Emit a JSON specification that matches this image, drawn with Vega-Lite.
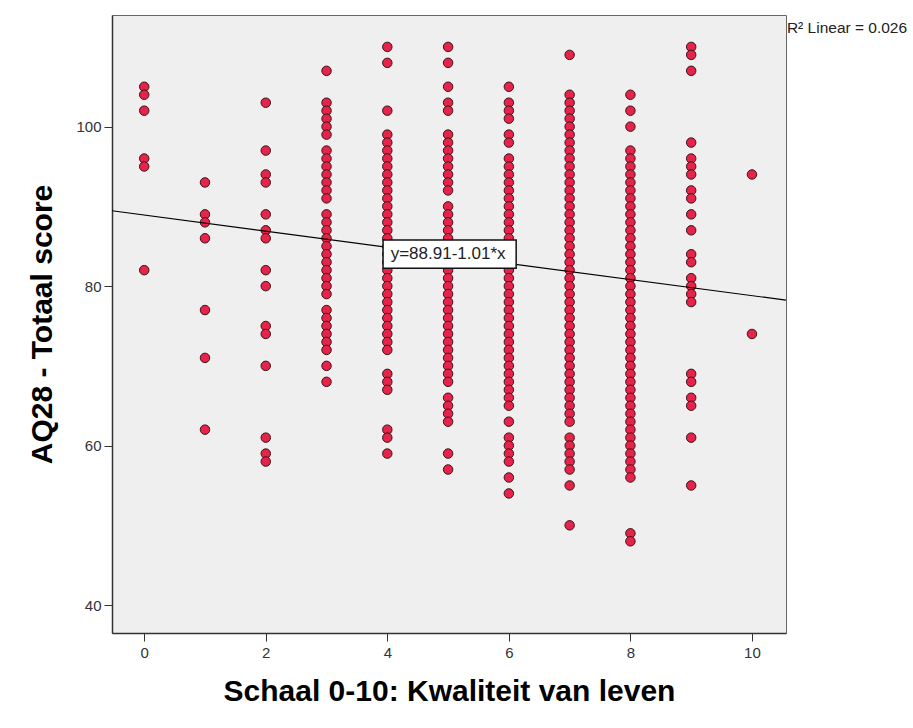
{
  "$schema": "https://vega.github.io/schema/vega-lite/v6.json",
  "width": 674,
  "height": 618,
  "autosize": {"type": "none"},
  "padding": {"left": 112, "top": 15, "right": 127, "bottom": 95},
  "background": "white",
  "config": {
    "font": "Liberation Sans",
    "view": {"fill": "#efefef", "stroke": "#666666", "strokeWidth": 1},
    "axis": {
      "grid": false,
      "domainColor": "#333333",
      "domainWidth": 1.5,
      "tickColor": "#333333",
      "tickSize": 8,
      "labelFont": "Liberation Sans",
      "labelFontSize": 15,
      "labelColor": "#333333",
      "titleFont": "Liberation Sans",
      "titleFontSize": 30,
      "titleFontWeight": "bold",
      "titleColor": "#000000"
    }
  },
  "datasets": {
    "punten": [
      {"schaal":0,"aq28":105},{"schaal":0,"aq28":104},{"schaal":0,"aq28":102},{"schaal":0,"aq28":96},{"schaal":0,"aq28":95},{"schaal":0,"aq28":82},
      {"schaal":1,"aq28":93},{"schaal":1,"aq28":89},{"schaal":1,"aq28":88},{"schaal":1,"aq28":86},{"schaal":1,"aq28":77},{"schaal":1,"aq28":71},{"schaal":1,"aq28":62},
      {"schaal":2,"aq28":103},{"schaal":2,"aq28":97},{"schaal":2,"aq28":94},{"schaal":2,"aq28":93},{"schaal":2,"aq28":89},{"schaal":2,"aq28":87},{"schaal":2,"aq28":86},{"schaal":2,"aq28":82},{"schaal":2,"aq28":80},{"schaal":2,"aq28":75},{"schaal":2,"aq28":74},{"schaal":2,"aq28":70},{"schaal":2,"aq28":61},{"schaal":2,"aq28":59},{"schaal":2,"aq28":58},
      {"schaal":3,"aq28":107},{"schaal":3,"aq28":103},{"schaal":3,"aq28":102},{"schaal":3,"aq28":101},{"schaal":3,"aq28":100},{"schaal":3,"aq28":99},
      {"schaal":3,"aq28":97},{"schaal":3,"aq28":96},{"schaal":3,"aq28":95},{"schaal":3,"aq28":94},{"schaal":3,"aq28":93},{"schaal":3,"aq28":92},{"schaal":3,"aq28":91},
      {"schaal":3,"aq28":89},{"schaal":3,"aq28":88},{"schaal":3,"aq28":87},{"schaal":3,"aq28":86},{"schaal":3,"aq28":85},{"schaal":3,"aq28":84},{"schaal":3,"aq28":83},{"schaal":3,"aq28":82},{"schaal":3,"aq28":81},{"schaal":3,"aq28":80},{"schaal":3,"aq28":79},
      {"schaal":3,"aq28":77},{"schaal":3,"aq28":76},{"schaal":3,"aq28":75},{"schaal":3,"aq28":74},{"schaal":3,"aq28":73},{"schaal":3,"aq28":72},{"schaal":3,"aq28":70},{"schaal":3,"aq28":68},
      {"schaal":4,"aq28":110},{"schaal":4,"aq28":108},{"schaal":4,"aq28":102},
      {"schaal":4,"aq28":99},{"schaal":4,"aq28":98},{"schaal":4,"aq28":97},{"schaal":4,"aq28":96},{"schaal":4,"aq28":95},{"schaal":4,"aq28":94},{"schaal":4,"aq28":93},{"schaal":4,"aq28":92},{"schaal":4,"aq28":91},{"schaal":4,"aq28":90},
      {"schaal":4,"aq28":89},{"schaal":4,"aq28":88},{"schaal":4,"aq28":87},{"schaal":4,"aq28":86},{"schaal":4,"aq28":85},{"schaal":4,"aq28":84},{"schaal":4,"aq28":83},{"schaal":4,"aq28":82},{"schaal":4,"aq28":81},{"schaal":4,"aq28":80},
      {"schaal":4,"aq28":79},{"schaal":4,"aq28":78},{"schaal":4,"aq28":77},{"schaal":4,"aq28":76},{"schaal":4,"aq28":75},{"schaal":4,"aq28":74},{"schaal":4,"aq28":73},{"schaal":4,"aq28":72},
      {"schaal":4,"aq28":69},{"schaal":4,"aq28":68},{"schaal":4,"aq28":67},{"schaal":4,"aq28":62},{"schaal":4,"aq28":61},{"schaal":4,"aq28":59},
      {"schaal":5,"aq28":110},{"schaal":5,"aq28":108},{"schaal":5,"aq28":105},{"schaal":5,"aq28":103},{"schaal":5,"aq28":102},
      {"schaal":5,"aq28":99},{"schaal":5,"aq28":98},{"schaal":5,"aq28":97},{"schaal":5,"aq28":96},{"schaal":5,"aq28":95},{"schaal":5,"aq28":94},{"schaal":5,"aq28":93},{"schaal":5,"aq28":92},
      {"schaal":5,"aq28":90},{"schaal":5,"aq28":89},{"schaal":5,"aq28":88},{"schaal":5,"aq28":87},{"schaal":5,"aq28":86},{"schaal":5,"aq28":85},{"schaal":5,"aq28":84},{"schaal":5,"aq28":83},{"schaal":5,"aq28":82},{"schaal":5,"aq28":81},
      {"schaal":5,"aq28":80},{"schaal":5,"aq28":79},{"schaal":5,"aq28":78},{"schaal":5,"aq28":77},{"schaal":5,"aq28":76},{"schaal":5,"aq28":75},{"schaal":5,"aq28":74},{"schaal":5,"aq28":73},{"schaal":5,"aq28":72},{"schaal":5,"aq28":71},
      {"schaal":5,"aq28":70},{"schaal":5,"aq28":69},{"schaal":5,"aq28":68},
      {"schaal":5,"aq28":66},{"schaal":5,"aq28":65},{"schaal":5,"aq28":64},{"schaal":5,"aq28":63},{"schaal":5,"aq28":59},{"schaal":5,"aq28":57},
      {"schaal":6,"aq28":105},{"schaal":6,"aq28":103},{"schaal":6,"aq28":102},{"schaal":6,"aq28":101},{"schaal":6,"aq28":99},{"schaal":6,"aq28":98},
      {"schaal":6,"aq28":96},{"schaal":6,"aq28":95},{"schaal":6,"aq28":94},{"schaal":6,"aq28":93},{"schaal":6,"aq28":92},{"schaal":6,"aq28":91},{"schaal":6,"aq28":90},
      {"schaal":6,"aq28":89},{"schaal":6,"aq28":88},{"schaal":6,"aq28":87},{"schaal":6,"aq28":86},{"schaal":6,"aq28":85},{"schaal":6,"aq28":84},{"schaal":6,"aq28":83},{"schaal":6,"aq28":82},{"schaal":6,"aq28":81},{"schaal":6,"aq28":80},
      {"schaal":6,"aq28":79},{"schaal":6,"aq28":78},{"schaal":6,"aq28":77},{"schaal":6,"aq28":76},{"schaal":6,"aq28":75},{"schaal":6,"aq28":74},{"schaal":6,"aq28":73},{"schaal":6,"aq28":72},{"schaal":6,"aq28":71},{"schaal":6,"aq28":70},
      {"schaal":6,"aq28":69},{"schaal":6,"aq28":68},{"schaal":6,"aq28":67},{"schaal":6,"aq28":66},{"schaal":6,"aq28":65},
      {"schaal":6,"aq28":63},{"schaal":6,"aq28":61},{"schaal":6,"aq28":60},{"schaal":6,"aq28":59},{"schaal":6,"aq28":58},{"schaal":6,"aq28":56},{"schaal":6,"aq28":54},
      {"schaal":7,"aq28":109},
      {"schaal":7,"aq28":104},{"schaal":7,"aq28":103},{"schaal":7,"aq28":102},{"schaal":7,"aq28":101},{"schaal":7,"aq28":100},
      {"schaal":7,"aq28":99},{"schaal":7,"aq28":98},{"schaal":7,"aq28":97},{"schaal":7,"aq28":96},{"schaal":7,"aq28":95},{"schaal":7,"aq28":94},{"schaal":7,"aq28":93},{"schaal":7,"aq28":92},{"schaal":7,"aq28":91},{"schaal":7,"aq28":90},
      {"schaal":7,"aq28":89},{"schaal":7,"aq28":88},{"schaal":7,"aq28":87},{"schaal":7,"aq28":86},{"schaal":7,"aq28":85},{"schaal":7,"aq28":84},{"schaal":7,"aq28":83},{"schaal":7,"aq28":82},{"schaal":7,"aq28":81},{"schaal":7,"aq28":80},
      {"schaal":7,"aq28":79},{"schaal":7,"aq28":78},{"schaal":7,"aq28":77},{"schaal":7,"aq28":76},{"schaal":7,"aq28":75},{"schaal":7,"aq28":74},{"schaal":7,"aq28":73},{"schaal":7,"aq28":72},{"schaal":7,"aq28":71},{"schaal":7,"aq28":70},
      {"schaal":7,"aq28":69},{"schaal":7,"aq28":68},{"schaal":7,"aq28":67},{"schaal":7,"aq28":66},{"schaal":7,"aq28":65},{"schaal":7,"aq28":64},{"schaal":7,"aq28":63},
      {"schaal":7,"aq28":61},{"schaal":7,"aq28":60},{"schaal":7,"aq28":59},{"schaal":7,"aq28":58},{"schaal":7,"aq28":57},{"schaal":7,"aq28":55},{"schaal":7,"aq28":50},
      {"schaal":8,"aq28":104},{"schaal":8,"aq28":102},{"schaal":8,"aq28":100},
      {"schaal":8,"aq28":97},{"schaal":8,"aq28":96},{"schaal":8,"aq28":95},{"schaal":8,"aq28":94},{"schaal":8,"aq28":93},{"schaal":8,"aq28":92},{"schaal":8,"aq28":91},{"schaal":8,"aq28":90},
      {"schaal":8,"aq28":89},{"schaal":8,"aq28":88},{"schaal":8,"aq28":87},{"schaal":8,"aq28":86},{"schaal":8,"aq28":85},{"schaal":8,"aq28":84},{"schaal":8,"aq28":83},{"schaal":8,"aq28":82},{"schaal":8,"aq28":81},{"schaal":8,"aq28":80},
      {"schaal":8,"aq28":79},{"schaal":8,"aq28":78},{"schaal":8,"aq28":77},{"schaal":8,"aq28":76},{"schaal":8,"aq28":75},{"schaal":8,"aq28":74},{"schaal":8,"aq28":73},{"schaal":8,"aq28":72},{"schaal":8,"aq28":71},{"schaal":8,"aq28":70},
      {"schaal":8,"aq28":69},{"schaal":8,"aq28":68},{"schaal":8,"aq28":67},{"schaal":8,"aq28":66},{"schaal":8,"aq28":65},{"schaal":8,"aq28":64},{"schaal":8,"aq28":63},{"schaal":8,"aq28":62},{"schaal":8,"aq28":61},{"schaal":8,"aq28":60},
      {"schaal":8,"aq28":59},{"schaal":8,"aq28":58},{"schaal":8,"aq28":57},{"schaal":8,"aq28":56},{"schaal":8,"aq28":49},{"schaal":8,"aq28":48},
      {"schaal":9,"aq28":110},{"schaal":9,"aq28":109},{"schaal":9,"aq28":107},{"schaal":9,"aq28":98},{"schaal":9,"aq28":96},{"schaal":9,"aq28":95},{"schaal":9,"aq28":94},{"schaal":9,"aq28":92},{"schaal":9,"aq28":91},{"schaal":9,"aq28":89},{"schaal":9,"aq28":87},
      {"schaal":9,"aq28":84},{"schaal":9,"aq28":83},{"schaal":9,"aq28":81},{"schaal":9,"aq28":80},{"schaal":9,"aq28":79},{"schaal":9,"aq28":78},{"schaal":9,"aq28":69},{"schaal":9,"aq28":68},{"schaal":9,"aq28":66},{"schaal":9,"aq28":65},{"schaal":9,"aq28":61},{"schaal":9,"aq28":55},
      {"schaal":10,"aq28":94},{"schaal":10,"aq28":74}
    ],
    "lijn": [
      {"schaal": -0.53, "aq28": 89.45},
      {"schaal": 10.56, "aq28": 78.24}
    ],
    "labels": [
      {"schaal": 5.0, "aq28": 84.0, "x1": 3.93, "x2": 6.12, "y1": 85.78, "y2": 82.23, "tekst": "y=88.91-1.01*x"}
    ],
    "r2": [
      {"schaal": 10.575, "aq28": 112.4, "tekst": "R² Linear = 0.026"}
    ]
  },
  "layer": [
    {
      "data": {"name": "punten"},
      "mark": {"type": "point", "shape": "circle", "filled": true, "size": 90, "fill": "#e5234b", "stroke": "#3b1414", "strokeWidth": 1, "opacity": 1},
      "encoding": {
        "x": {
          "field": "schaal", "type": "quantitative",
          "scale": {"domain": [-0.53, 10.56], "nice": false, "zero": false},
          "axis": {"values": [0, 2, 4, 6, 8, 10], "format": "d", "title": "Schaal 0-10: Kwaliteit van leven", "labelPadding": 4, "titlePadding": 16}
        },
        "y": {
          "field": "aq28", "type": "quantitative",
          "scale": {"domain": [36.5, 114], "nice": false, "zero": false},
          "axis": {"values": [40, 60, 80, 100], "format": "d", "title": "AQ28 - Totaal score", "labelPadding": 3, "titlePadding": 18}
        }
      }
    },
    {
      "data": {"name": "lijn"},
      "mark": {"type": "line", "color": "#000000", "strokeWidth": 1.2},
      "encoding": {
        "x": {"field": "schaal", "type": "quantitative"},
        "y": {"field": "aq28", "type": "quantitative"}
      }
    },
    {
      "data": {"name": "labels"},
      "mark": {"type": "rect", "fill": "#ffffff", "stroke": "#111111", "strokeWidth": 1.5},
      "encoding": {
        "x": {"field": "x1", "type": "quantitative"},
        "x2": {"field": "x2"},
        "y": {"field": "y1", "type": "quantitative"},
        "y2": {"field": "y2"}
      }
    },
    {
      "data": {"name": "labels"},
      "mark": {"type": "text", "fontSize": 17, "color": "#222222", "align": "center", "baseline": "middle", "font": "Liberation Sans"},
      "encoding": {
        "x": {"field": "schaal", "type": "quantitative"},
        "y": {"field": "aq28", "type": "quantitative"},
        "text": {"field": "tekst"}
      }
    },
    {
      "data": {"name": "r2"},
      "mark": {"type": "text", "fontSize": 15.5, "color": "#222222", "align": "left", "baseline": "middle", "font": "Liberation Sans", "clip": false},
      "encoding": {
        "x": {"field": "schaal", "type": "quantitative"},
        "y": {"field": "aq28", "type": "quantitative"},
        "text": {"field": "tekst"}
      }
    }
  ]
}
